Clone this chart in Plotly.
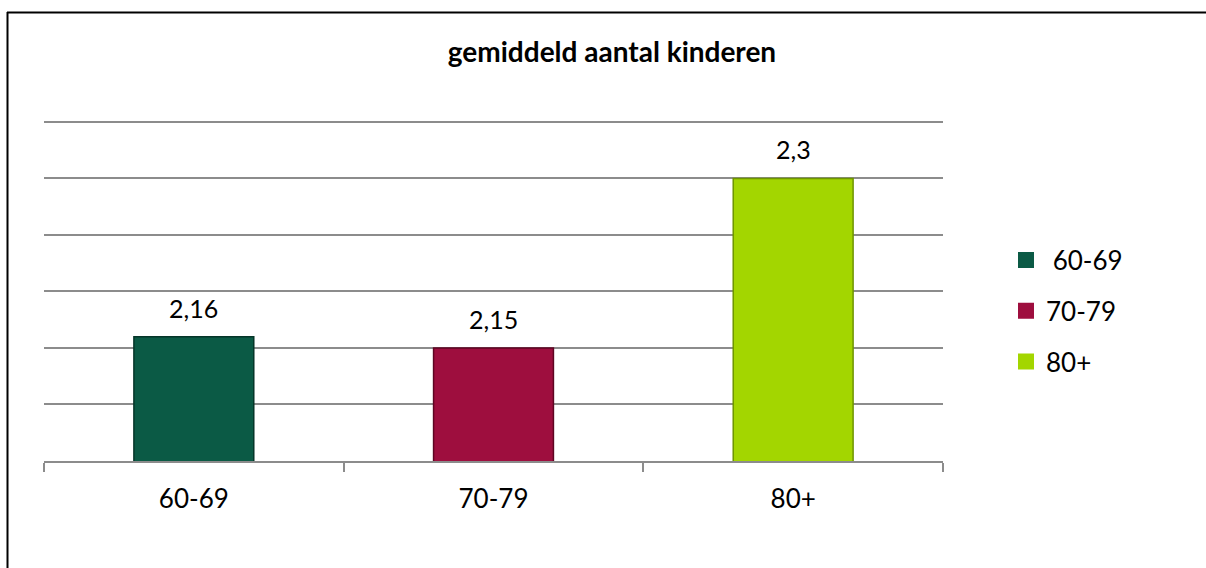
import plotly.graph_objects as go

categories = ["60-69", "70-79", "80+"]
legend_names = [" 60-69", "70-79", "80+"]
values = [2.16, 2.15, 2.30]
colors = ["#0B5A45", "#9E0E3E", "#A3D600"]
edge_colors = ["#053528", "#5E0522", "#6E9400"]
title_text = "gemiddeld aantal kinderen"

W, H = 1206, 568
ML, MR, MT, MB = 44, 263, 118, 107
PW, PH = W - ML - MR, H - MT - MB
Y_RANGE = [2.05, 2.3535]

def px_to_paper_x(px):
    return (px - ML) / PW

def px_to_paper_y(py):
    return (H - MB - py) / PH

FONT = "Lato"

fig = go.Figure()
for cat, val, col, ec in zip(categories, values, colors, edge_colors):
    fig.add_trace(go.Bar(
        x=[cat], y=[val], width=0.4,
        marker=dict(color=col, line=dict(color=ec, width=1.5)),
        showlegend=False, hoverinfo="skip",
    ))
for i, (name, col) in enumerate(zip(legend_names, colors)):
    fig.add_trace(go.Scatter(
        x=[None], y=[None], mode="markers", name=name,
        marker=dict(symbol="square", size=17, color=col),
        legendgroup=f"g{i}",
    ))

annotations = []
for cat, val in zip(categories, values):
    annotations.append(dict(
        x=cat, y=val, xref="x", yref="y",
        text=f"{val:g}".replace(".", ","),
        showarrow=False, yanchor="bottom", yshift=12,
        font=dict(family=FONT, size=25, color="#000000"),
    ))

shapes = [
    dict(type="line", xref="paper", yref="paper",
         x0=px_to_paper_x(7), x1=px_to_paper_x(1206),
         y0=px_to_paper_y(12.5), y1=px_to_paper_y(12.5),
         line=dict(color="black", width=2)),
    dict(type="line", xref="paper", yref="paper",
         x0=px_to_paper_x(7.5), x1=px_to_paper_x(7.5),
         y0=px_to_paper_y(12), y1=px_to_paper_y(568),
         line=dict(color="black", width=2)),
]

fig.update_layout(
    width=W, height=H,
    margin=dict(l=ML, r=MR, t=MT, b=MB),
    paper_bgcolor="white", plot_bgcolor="white",
    barmode="overlay",
    title=dict(text=f"<b>{title_text}</b>", x=612 / W, xanchor="center",
               y=1 - 52 / H, yanchor="middle", xref="container", yref="container",
               font=dict(family=FONT, size=28, color="#000000")),
    xaxis=dict(type="category", categoryorder="array", categoryarray=categories,
               showline=True, linecolor="#8C8C8C", linewidth=2,
               ticks="outside", tickson="boundaries", ticklen=9, tickwidth=2,
               tickcolor="#8C8C8C", showgrid=False, ticklabelstandoff=14,
               tickfont=dict(family=FONT, size=26, color="#000000")),
    yaxis=dict(range=Y_RANGE, dtick=0.05, tick0=2.05,
               showgrid=True, gridcolor="#8C8C8C", gridwidth=2,
               showticklabels=False, zeroline=False, showline=False),
    legend=dict(x=px_to_paper_x(1006), xanchor="left",
                y=px_to_paper_y(311), yanchor="middle",
                font=dict(family=FONT, size=26, color="#000000"),
                tracegroupgap=14, bgcolor="rgba(0,0,0,0)"),
    annotations=annotations,
    shapes=shapes,
    showlegend=True,
)

fig.write_html("out.html", config={"displayModeBar": False},
               post_script="document.body.style.margin='0';document.body.style.padding='0';")
